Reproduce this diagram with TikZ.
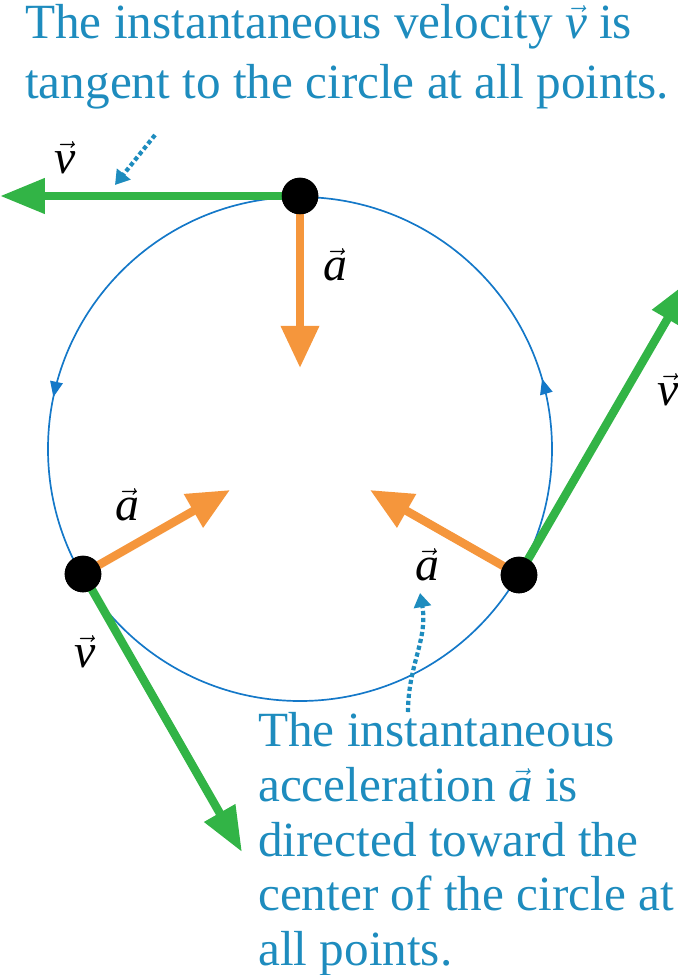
\documentclass[tikz,border=0pt]{standalone}
\usepackage{fontspec}
\setmainfont{Liberation Serif}
\usetikzlibrary{arrows.meta, positioning, decorations.markings}
\definecolor{textblue}{RGB}{30,140,190}
\definecolor{circblue}{RGB}{20,120,200}
\definecolor{velgreen}{RGB}{50,180,70}
\definecolor{accorange}{RGB}{245,150,60}
\newcommand{\vv}{$\vec{\textit{v}}$}
\newcommand{\va}{$\vec{\textit{a}}$}
\tikzset{
  vel/.style={velgreen, line width=6pt, -{Triangle[length=32pt,width=24pt]}},
  acc/.style={accorange, line width=6pt, -{Triangle[length=30pt,width=26pt]}},
  pt/.style={circle, fill=black, inner sep=0pt, minimum size=26pt},
  lbl/.style={font=\fontsize{34}{40}\selectfont, inner sep=1pt},
  note/.style={textblue, font=\fontsize{35}{39}\selectfont, align=left, inner sep=0pt},
  hint/.style={textblue, line width=3pt, dotted, -{Triangle[length=10pt,width=12pt]}}
}
\begin{document}
\begin{tikzpicture}[x=0.025cm, y=-0.025cm]
  \useasboundingbox (0,0) rectangle (678,975);
  % circular path with direction marks
  \draw[circblue, line width=1.2pt,
        decoration={markings,
          mark=at position 0.533 with {\arrowreversed{Triangle[length=11pt,width=9pt]}},
          mark=at position 0.955 with {\arrowreversed{Triangle[length=11pt,width=9pt]}}},
        postaction={decorate}] (300,449) circle[radius=252];
  \coordinate (ctr) at (300,449);
  \node (top) [pt] at (300,196) {};
  \node (left) [pt] at (83,574) {};
  \node (right) [pt] at (519,575) {};
  \coordinate (vtop) at (0,196);
  \coordinate (vleft) at (242,852);
  \coordinate (vright) at (690,280);
  \coordinate (atop) at (300,368);
  \coordinate (aleft) at (230,490);
  \coordinate (aright) at (370,490);
  \draw[vel] (top.center) -- (vtop);
  \draw[vel] (left.center) -- (vleft);
  \draw[vel] (right.center) -- (vright);
  \draw[acc] (top.center) -- (atop);
  \draw[acc] (left.center) -- (aleft);
  \draw[acc] (right.center) -- (aright);
  \node (top) [pt] at (300,196) {};
  \node (left) [pt] at (83,574) {};
  \node (right) [pt] at (519,575) {};
  % vector labels
  \node[lbl] at (65,158) {\vv};
  \node[lbl] at (335,265) {\va};
  \node[lbl] at (668,390) {\vv};
  \node[lbl] at (127,505) {\va};
  \node[lbl] at (427,565) {\va};
  \node[lbl] at (85,652) {\vv};
  % notes
  \node (note1) [note, anchor=north west] at (25,4)
    {The instantaneous velocity \vv{} is\\[4pt]tangent to the circle at all points.};
  \node (note2) [note, anchor=north west] at (258,712)
    {The instantaneous\\acceleration \va{} is\\directed toward the\\center of the circle at\\all points.};
  \coordinate (h1) at (155,135);
  \coordinate (h1e) at (115,185);
  \coordinate (h2) at (408,712);
  \coordinate (h2e) at (420,593);
  \draw[hint] (h1) -- (h1e);
  \draw[hint] (h2) to[out=90,in=-80] (h2e);
\end{tikzpicture}
\end{document}
